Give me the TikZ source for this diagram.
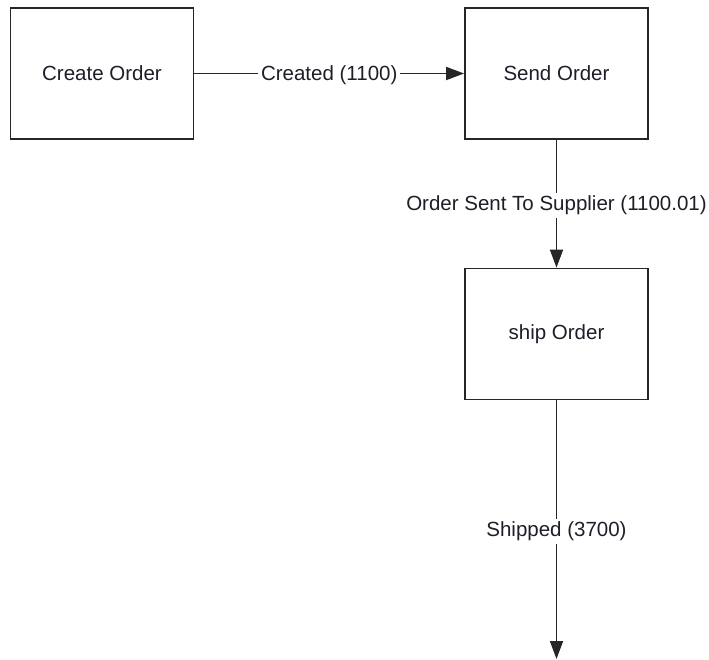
\documentclass[tikz,border=0pt]{standalone}
\usepackage{fontspec}
\setmainfont{Liberation Sans}
\usetikzlibrary{arrows.meta}
\definecolor{txt}{HTML}{1E1E28}
\begin{document}
\begin{tikzpicture}[x=1pt,y=-1pt,
  font=\fontsize{20.5}{24}\selectfont,
  box/.style={draw=black!85,line width=1.8pt,fill=white,minimum width=183pt,minimum height=131pt,inner sep=0pt,text=txt},
  conn/.style={draw=black!85,line width=1.8pt,-{Triangle[length=18pt,width=13pt]}},
  lbl/.style={fill=white,text=txt,inner sep=3pt,yshift=-1.5pt}]
\useasboundingbox (0,0) rectangle (709,659);
\node[box] (create) at (102,73.5) {Create Order};
\node[box] (send) at (556.5,73.5) {Send Order};
\node[box] (ship) at (556.5,334) {ship Order};
\coordinate (end) at (556.5,659);
\draw[conn] (create) -- node[lbl] {Created (1100)} (send);
\draw[conn] (send) -- node[lbl] {Order Sent To Supplier (1100.01)} (ship);
\draw[conn] (ship) -- node[lbl] {Shipped (3700)} (end);
\end{tikzpicture}
\end{document}
